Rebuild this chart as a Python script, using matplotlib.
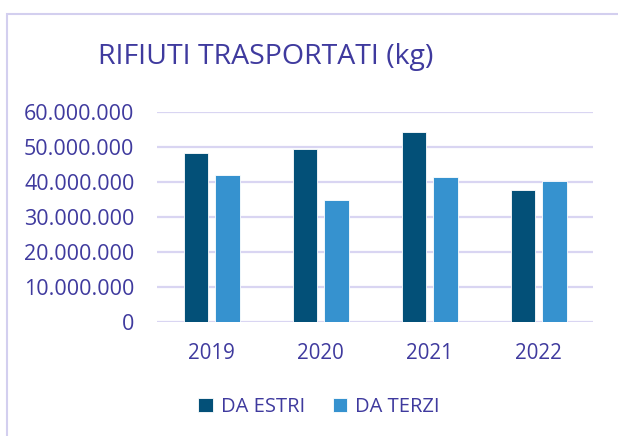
import matplotlib.pyplot as plt
import numpy as np
from matplotlib.patches import Rectangle
from matplotlib.ticker import FuncFormatter

anni = ["2019", "2020", "2021", "2022"]
da_estri = [48_400_000, 49_400_000, 54_300_000, 37_800_000]
da_terzi = [42_100_000, 34_900_000, 41_600_000, 40_400_000]

TESTO = "#3F3A9E"
GRIGLIA = "#D9D5F2"
plt.rcParams["font.family"] = ["Open Sans", "DejaVu Sans"]

fig = plt.figure(figsize=(6.18, 4.36), dpi=100)
# bordo del grafico (esce dall'immagine a destra e in basso)
fig.patches.append(Rectangle((7 / 618, -0.1), 1.2, 1 - 14 / 436 + 0.1,
                             transform=fig.transFigure, fill=False,
                             edgecolor="#D3CFEF", linewidth=1.5))

ax = fig.add_axes([157.3 / 618, 1 - 322.3 / 436, 436 / 618, 210 / 436])
x = np.arange(len(anni))
w = 0.226
off = 0.144
ax.bar(x - off, da_estri, w, color="#035078", edgecolor="white", linewidth=0.6,
       label="DA ESTRI", zorder=3)
ax.bar(x + off, da_terzi, w, color="#3692CF", edgecolor="white", linewidth=0.6,
       label="DA TERZI", zorder=3)

ax.set_xlim(-0.5, len(anni) - 0.5)
ax.set_ylim(0, 60_000_000)
ax.set_yticks(np.arange(0, 60_000_001, 10_000_000))
ax.yaxis.set_major_formatter(FuncFormatter(lambda v, p: f"{int(v):,}".replace(",", ".")))
ax.set_xticks(x)
ax.set_xticklabels(anni)
ax.tick_params(axis="both", length=0, colors=TESTO)
ax.tick_params(axis="y", pad=16.5, labelsize=15.5)
ax.tick_params(axis="x", pad=15, labelsize=14.8)
ax.grid(axis="y", color=GRIGLIA, linewidth=1.6, zorder=0)
for s in ax.spines.values():
    s.set_visible(False)

fig.text(266 / 618, 1 - 57 / 436, "RIFIUTI TRASPORTATI (kg)", ha="center", va="center",
         color=TESTO, fontsize=20.5)

fig.legend(loc="center", bbox_to_anchor=(319 / 618, 1 - 407 / 436), ncol=2, frameon=False,
           fontsize=14.5, labelcolor=TESTO, handlelength=0.7, handleheight=0.7,
           handletextpad=0.4, columnspacing=1.4)

fig.savefig("out.png", dpi=100)
